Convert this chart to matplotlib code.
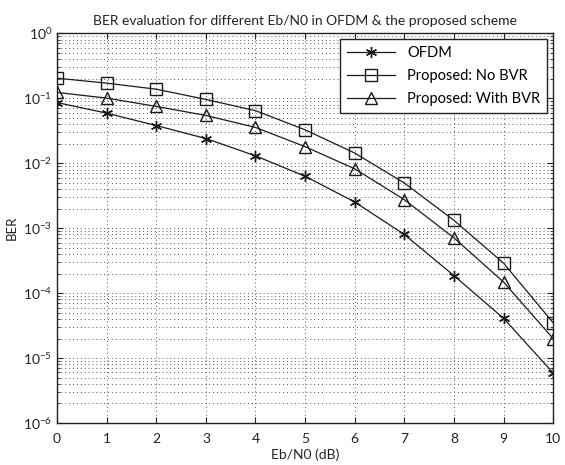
import numpy as np
import matplotlib
matplotlib.use("Agg")
import matplotlib.pyplot as plt
from matplotlib.ticker import LogLocator, FixedLocator, NullFormatter

plt.rcParams['font.family'] = ['Lato', 'DejaVu Sans']
plt.rcParams['mathtext.default'] = 'regular'

ebn0 = [0, 1, 2, 3, 4, 5, 6, 7, 8, 9, 10]
ber_ofdm = [0.086, 0.059, 0.038, 0.024, 0.013, 0.0063, 0.00253, 8.0e-4, 1.86e-4, 4.1e-5, 5.9e-6]
ber_no_bvr = [0.204, 0.171, 0.138, 0.096, 0.0645, 0.0327, 0.01435, 0.00496, 0.00132, 2.9e-4, 3.5e-5]
ber_with_bvr = [0.123, 0.1006, 0.075, 0.0544, 0.0356, 0.018, 0.0082, 0.00275, 7.1e-4, 1.48e-4, 2.0e-5]

fig = plt.figure(figsize=(5.65, 4.65), dpi=100)
ax = fig.add_axes([0.101, 0.0903, 0.878, 0.838])

ax.semilogy(ebn0, ber_ofdm, color='#1a1a1a', lw=0.9, marker=(6, 2, 0), ms=8,
            mew=1.0, mfc='#1a1a1a', mec='#1a1a1a', label='OFDM')
ax.semilogy(ebn0, ber_no_bvr, color='#1a1a1a', lw=0.9, marker='s', ms=8,
            mfc='none', mec='#1a1a1a', label='Proposed: No BVR')
ax.semilogy(ebn0, ber_with_bvr, color='#1a1a1a', lw=0.9, marker='^', ms=9,
            mfc='none', mec='#1a1a1a', label='Proposed: With BVR')

ax.set_xlim(0, 10)
ax.set_ylim(1e-6, 1)
ax.xaxis.set_major_locator(FixedLocator(range(0, 11)))
ax.yaxis.set_major_locator(LogLocator(base=10, numticks=10))
ax.yaxis.set_minor_locator(LogLocator(base=10, subs=np.arange(2, 10), numticks=10))
ax.yaxis.set_minor_formatter(NullFormatter())
ax.set_yticks([10.0 ** k for k in range(-6, 1)])
ax.set_yticklabels(['$10^{%d}$' % k for k in range(-6, 1)])

ax.grid(True, which='major', axis='both', ls=(0, (1, 3)), color='#555555', lw=0.7)
ax.grid(True, which='minor', axis='y', ls=(0, (1, 3)), color='#555555', lw=0.7)
ax.tick_params(which='both', direction='in', top=True, right=True, labelsize=10, colors='#222222')
ax.tick_params(which='major', length=4)
ax.tick_params(axis='x', which='major', pad=7)
ax.tick_params(which='minor', length=2)
for s in ax.spines.values():
    s.set_linewidth(1.0)
    s.set_color('#222222')

ax.set_xlabel('Eb/N0 (dB)', fontsize=10, color='#222222', labelpad=3)
ax.set_ylabel('BER', fontsize=9.5, color='#222222', labelpad=4)
ax.set_title('BER evaluation for different Eb/N0 in OFDM & the proposed scheme',
             fontsize=10, color='#222222', pad=6)

leg = ax.legend(loc='upper right', fontsize=10.5, fancybox=False, framealpha=1,
                edgecolor='#222222', borderaxespad=0.4, handlelength=3.3,
                labelspacing=0.6, borderpad=0.5, handletextpad=0.8)
leg.get_frame().set_linewidth(1.0)

fig.savefig('out.png', dpi=100)
